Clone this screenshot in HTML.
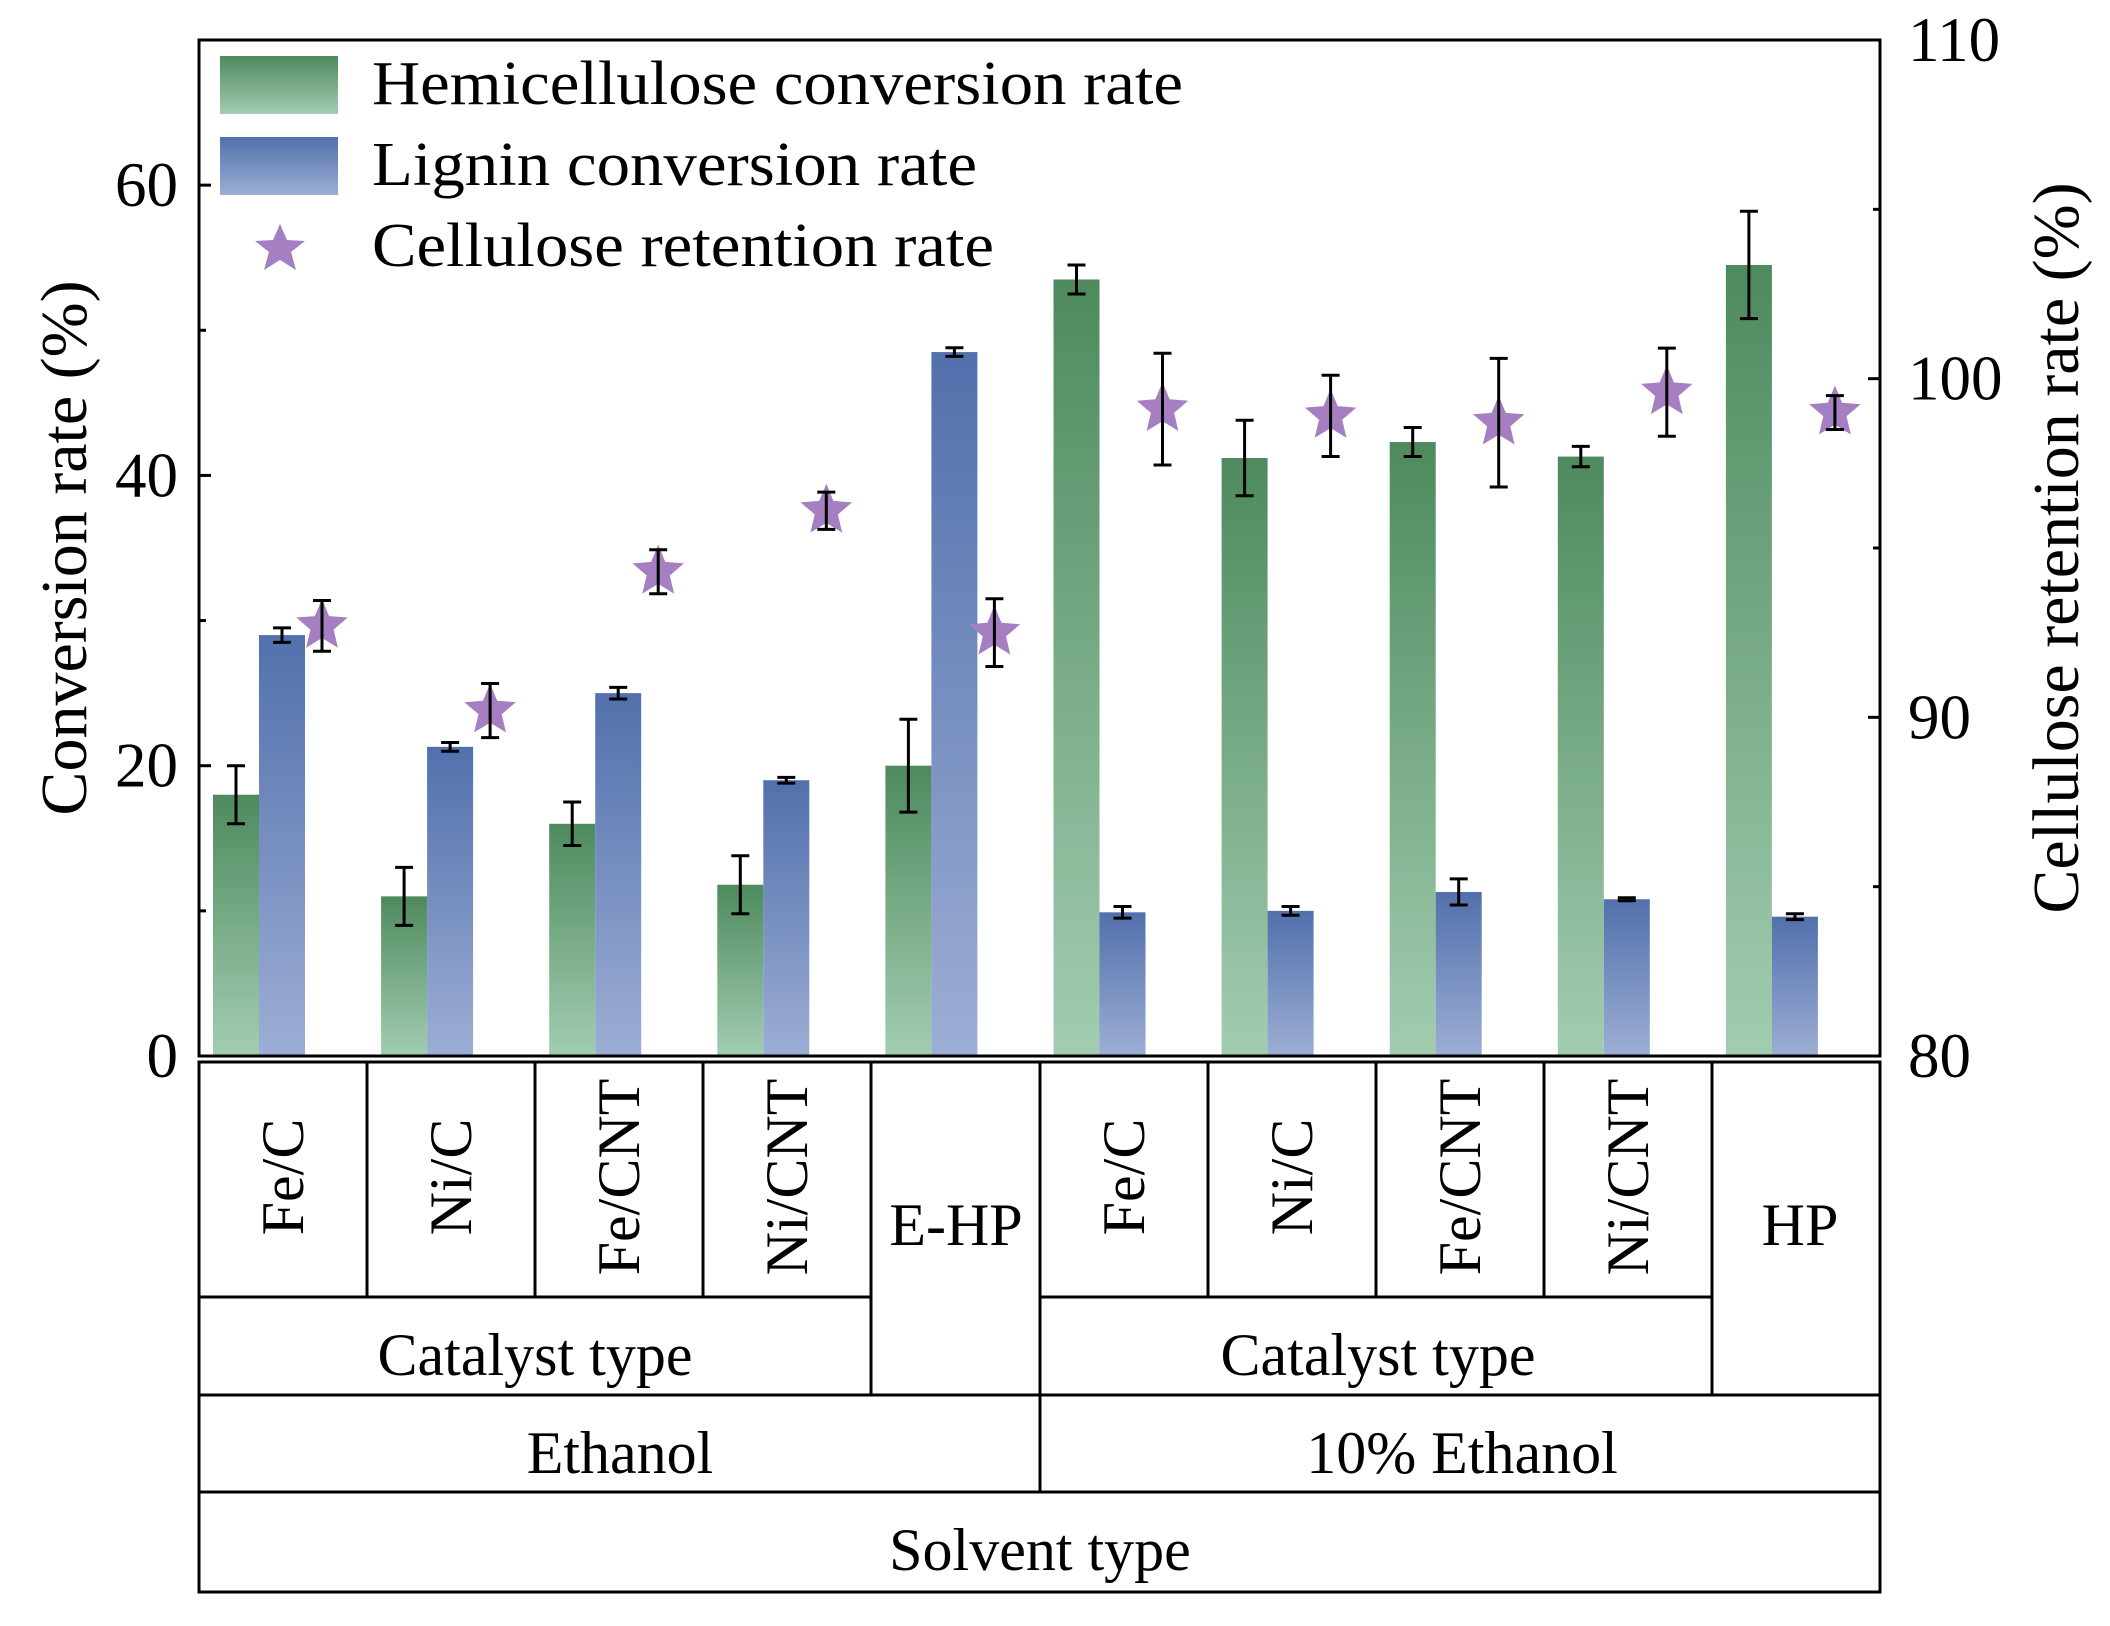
<!DOCTYPE html>
<html><head><meta charset="utf-8"><style>
html,body{margin:0;padding:0;background:#fff;}
svg{display:block;font-family:"Liberation Serif",serif;}
</style></head><body>
<svg id="chart" width="2110" height="1626" viewBox="0 0 2110 1626">
<defs>
<linearGradient id="gG" x1="0" y1="0" x2="0" y2="1"><stop offset="0" stop-color="#4e8a5e"/><stop offset="1" stop-color="#a2cdb0"/></linearGradient>
<linearGradient id="gB" x1="0" y1="0" x2="0" y2="1"><stop offset="0" stop-color="#5270ac"/><stop offset="1" stop-color="#9caed4"/></linearGradient>
</defs>
<g id="marks"></g>
<g id="axes"></g>
</svg>
<script>
const categories = ["Fe/C","Ni/C","Fe/CNT","Ni/CNT","E-HP","Fe/C","Ni/C","Fe/CNT","Ni/CNT","HP"];
const hemiValues = [18,11,16,11.8,20,53.5,41.2,42.3,41.3,54.5];
const hemiErrors = [2,2,1.5,2,3.2,1,2.6,1,0.7,3.7];
const ligninValues = [29,21.3,25,19,48.5,9.9,10,11.3,10.8,9.6];
const ligninErrors = [0.5,0.3,0.4,0.2,0.3,0.4,0.3,0.9,0.1,0.2];
const celluloseValues = [92.7,90.2,94.3,96.1,92.5,99.1,98.9,98.7,99.6,99.0];
const celluloseErrors = [0.75,0.8,0.65,0.55,1.0,1.65,1.2,1.9,1.3,0.5];
const leftTicks = [0,20,40,60];
const rightTicks = [80,90,100,110];

const NS="http://www.w3.org/2000/svg";
const L=199,R=1880,T=40,B=1056;
const colW=(R-L)/categories.length;
const yL=v=>B-(v/70)*(B-T);
const yR=v=>B-((v-80)/30)*(B-T);
const marks=document.getElementById('marks');
const axes=document.getElementById('axes');
function el(tag,attrs,parent,text){const e=document.createElementNS(NS,tag);for(const k in attrs)e.setAttribute(k,attrs[k]);if(text!==undefined)e.textContent=text;parent.appendChild(e);return e;}
function errbar(x,y1,y2,name){
  const g=el('g',{stroke:'#000','stroke-width':3},marks);
  
  
  el('line',{x1:x,x2:x,y1:y1,y2:y2},g);
  el('line',{x1:x-9,x2:x+9,y1:y1,y2:y1},g);
  el('line',{x1:x-9,x2:x+9,y1:y2,y2:y2},g);
}
function starPath(cx,cy,r){let d='';for(let i=0;i<10;i++){const rr=i%2?r*0.45:r;const a=-Math.PI/2+i*Math.PI/5;d+=(i?'L':'M')+(cx+rr*Math.cos(a)).toFixed(1)+' '+(cy+rr*Math.sin(a)).toFixed(1);}return d+'Z';}
const bw=46;
categories.forEach((c,i)=>{
  const x0=L+i*colW+14;
  const h=el('rect',{x:x0,y:yL(hemiValues[i]),width:bw,height:B-yL(hemiValues[i]),fill:'url(#gG)'},marks);
  
  
  const b=el('rect',{x:x0+bw,y:yL(ligninValues[i]),width:bw,height:B-yL(ligninValues[i]),fill:'url(#gB)'},marks);
  
  
  errbar(x0+bw/2,yL(hemiValues[i]+hemiErrors[i]),yL(hemiValues[i]-hemiErrors[i]),'hemicellulose-error-'+(i+1));
  errbar(x0+bw*1.5,yL(ligninValues[i]+ligninErrors[i]),yL(ligninValues[i]-ligninErrors[i]),'lignin-error-'+(i+1));
  const sx=x0+bw*2.5-6;
  const s=el('path',{d:starPath(sx,yR(celluloseValues[i]),27),fill:'#a67fc2'},marks);
  
  
  errbar(sx,yR(celluloseValues[i]+celluloseErrors[i]),yR(celluloseValues[i]-celluloseErrors[i]),'cellulose-error-'+(i+1));
});
const frame=el('rect',{x:L,y:T,width:R-L,height:B-T,fill:'none',stroke:'#000','stroke-width':3},axes);


leftTicks.forEach(v=>{
  const t=el('line',{x1:L,x2:L+12,y1:yL(v),y2:yL(v),stroke:'#000','stroke-width':3},axes);
  
  
  const m=el('line',{x1:L,x2:L+7,y1:yL(v+10),y2:yL(v+10),stroke:'#000','stroke-width':3},axes);
  
  
  const tx=el('text',{x:178,y:yL(v)+21,'text-anchor':'end','font-size':63},axes,String(v));
  
  
});
rightTicks.forEach(v=>{
  const t=el('line',{x1:R-12,x2:R,y1:yR(v),y2:yR(v),stroke:'#000','stroke-width':3},axes);
  
  
  if(v<110){const m=el('line',{x1:R-7,x2:R,y1:yR(v+5),y2:yR(v+5),stroke:'#000','stroke-width':3},axes);
  
  }
  const tx=el('text',{x:1908,y:yR(v)+21,'font-size':63},axes,String(v));
  
  
});
</script>
<svg width="2110" height="1626" style="position:absolute;left:0;top:0;font-family:'Liberation Serif',serif">
<text transform="translate(86,548) rotate(-90)" text-anchor="middle" font-size="66">Conversion rate (%)</text>
<text transform="translate(2078,548) rotate(-90)" text-anchor="middle" font-size="66">Cellulose retention rate (%)</text>
<g>
<rect x="220" y="56" width="118" height="58" fill="url(#gG)"/>
<text x="372" y="104" font-size="62" textLength="811" lengthAdjust="spacingAndGlyphs">Hemicellulose conversion rate</text>
<rect x="220" y="137" width="118" height="58" fill="url(#gB)"/>
<text x="372" y="185" font-size="62" textLength="605" lengthAdjust="spacingAndGlyphs">Lignin conversion rate</text>
<path d="M280,224 L287,240 L305,241 L291,252 L296,270 L280,260 L264,270 L269,252 L255,241 L273,240Z" fill="#a67fc2"/>
<text x="372" y="266" font-size="62" textLength="622" lengthAdjust="spacingAndGlyphs">Cellulose retention rate</text>
</g>
<g stroke="#000" stroke-width="3" fill="none">
<rect x="199" y="1062" width="1681" height="530"/>
<line x1="199" y1="1297" x2="871" y2="1297"/>
<line x1="1040" y1="1297" x2="1712" y2="1297"/>
<line x1="199" y1="1395" x2="1880" y2="1395"/>
<line x1="199" y1="1492" x2="1880" y2="1492"/>
<line x1="367" y1="1062" x2="367" y2="1297"/>
<line x1="535" y1="1062" x2="535" y2="1297"/>
<line x1="703" y1="1062" x2="703" y2="1297"/>
<line x1="871" y1="1062" x2="871" y2="1395"/>
<line x1="1040" y1="1062" x2="1040" y2="1492"/>
<line x1="1208" y1="1062" x2="1208" y2="1297"/>
<line x1="1376" y1="1062" x2="1376" y2="1297"/>
<line x1="1544" y1="1062" x2="1544" y2="1297"/>
<line x1="1712" y1="1062" x2="1712" y2="1395"/>
</g>
<g font-size="60" text-anchor="middle">
<text transform="translate(303,1177) rotate(-90)">Fe/C</text>
<text transform="translate(471,1177) rotate(-90)">Ni/C</text>
<text transform="translate(639,1177) rotate(-90)">Fe/CNT</text>
<text transform="translate(807,1177) rotate(-90)">Ni/CNT</text>
<text x="956" y="1245">E-HP</text>
<text transform="translate(1144,1177) rotate(-90)">Fe/C</text>
<text transform="translate(1312,1177) rotate(-90)">Ni/C</text>
<text transform="translate(1480,1177) rotate(-90)">Fe/CNT</text>
<text transform="translate(1648,1177) rotate(-90)">Ni/CNT</text>
<text x="1800" y="1245">HP</text>
<text x="535" y="1375">Catalyst type</text>
<text x="1378" y="1375">Catalyst type</text>
<text x="620" y="1473">Ethanol</text>
<text x="1462" y="1473">10% Ethanol</text>
<text x="1040" y="1570">Solvent type</text>
</g>
</svg>
</body></html>
